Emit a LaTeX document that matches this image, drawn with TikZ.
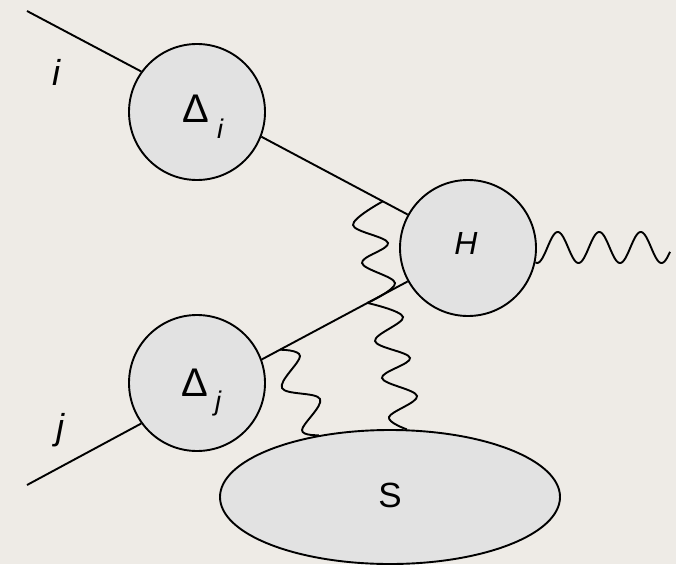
\documentclass[tikz,border=0pt]{standalone}
\usepackage{fontspec}
\setmainfont{Liberation Sans}
\usetikzlibrary{shapes.geometric,calc}
\definecolor{paper}{RGB}{238,235,230}
\definecolor{blob}{RGB}{226,226,226}
\begin{document}
\begin{tikzpicture}[x=1pt,y=-1pt,
  ln/.style={line width=1.9pt,black},
  blobc/.style={circle,draw=black,line width=1.9pt,fill=blob,minimum size=136pt,inner sep=0pt},
  blobe/.style={ellipse,draw=black,line width=1.9pt,fill=blob,minimum width=340pt,minimum height=134pt,inner sep=0pt},
  wav/.style={line width=1.9pt,black,smooth,tension=0.6},
  lbl/.style={inner sep=0pt,font=\fontsize{36}{40}\selectfont\itshape},
  greek/.style={inner sep=0pt,font=\fontsize{40}{46}\selectfont},
  sub/.style={inner sep=0pt,font=\fontsize{27}{30}\selectfont\itshape}]
\fill[paper] (0,0) rectangle (676,564);
\useasboundingbox (0,0) rectangle (676,564);
% coordinates for free ends
\coordinate (ia) at (27,11);
\coordinate (jb) at (27,485);
% blobs
\node[blobc] (Di) at (197,112) {};
\node[blobc] (Dj) at (197,383) {};
\node[blobc] (H) at (468,248) {};
\node[blobe] (S) at (390,497) {};
\draw[ln] (ia) -- (Di.144);
\draw[ln] (Di.-21) -- (H.151.6);
\draw[ln] (jb) -- (Dj.216.7);
\draw[ln] (Dj.20.3) -- (H.209);
\coordinate (w1a) at ($(Di.-21)!0.83!(H.151.6)$);
\coordinate (w1b) at ($(Dj.20.3)!0.724!(H.209)$);
\coordinate (w3a) at ($(Dj.20.3)!0.124!(H.209)$);
% photon
\draw[ln] (H.-12) -- plot[domain=0:133,samples=150,smooth] ({\x+537},{247.5+15.5*cos(8.675*\x)});
% gluons
\draw[wav] plot coordinates {(w1a) (353,225) (388,243) (362,263) (395,283) (w1b)};
\draw[wav] plot coordinates {(w1b) (403,317) (375,341) (410,358) (382,378) (417,396) (389,417) (S.76)};
\draw[wav] plot coordinates {(w3a) (300,356) (282,388) (320,399) (302,430) (S.139)};
% labels
\node[lbl] (li) at (56,72) {i};
\node[lbl] (lj) at (60,430) {j};
\node[greek] (DiL) at (196,109) {Δ};
\node[sub] (DiS) at (220,129) {i};
\node[greek] (DjL) at (195,383) {Δ};
\node[sub] (DjS) at (218,404) {j};
\node[lbl,font=\fontsize{32}{38}\selectfont\itshape] (HL) at (466,243) {H};
\node[inner sep=0pt,font=\fontsize{35}{40}\selectfont] (SL) at (390,495) {S};
\end{tikzpicture}
\end{document}
